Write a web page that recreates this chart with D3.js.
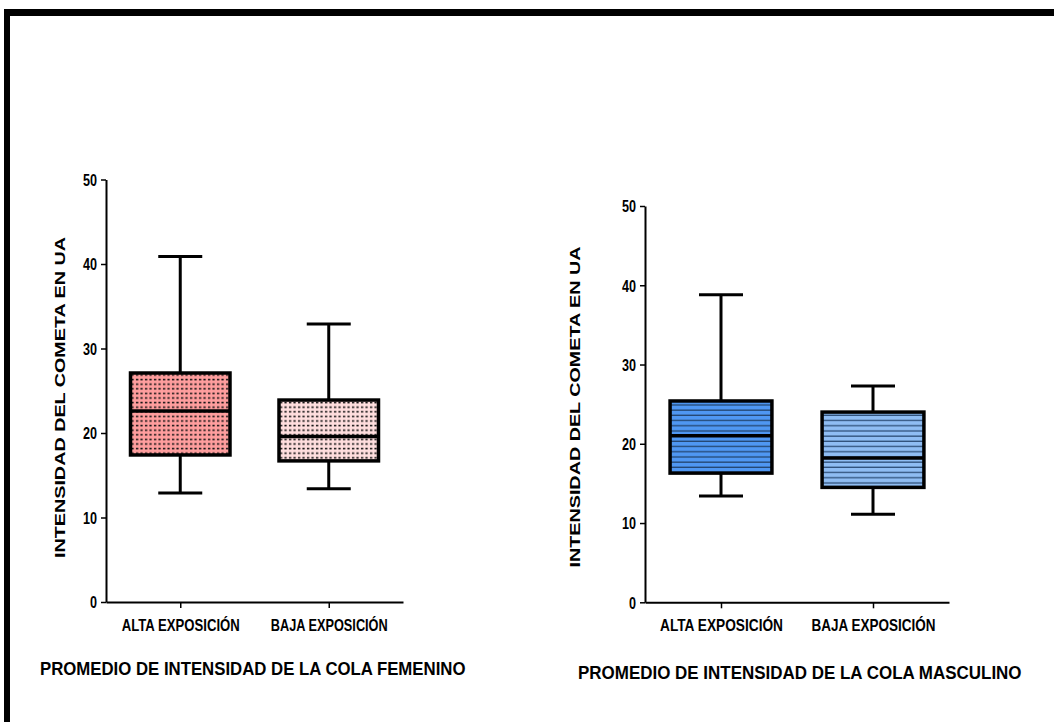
<!DOCTYPE html>
<html>
<head>
<meta charset="utf-8">
<script src="https://cdn.jsdelivr.net/npm/d3@7"></script>
<style>
  body { margin: 0; background: #ffffff; }
  svg { display: block; }
</style>
</head>
<body>
<svg id="chart" width="1054" height="722"></svg>
<script>
// Exposure groups shown on both panels
const groups = ["ALTA EXPOSICIÓN", "BAJA EXPOSICIÓN"];
const yTicks = [0, 10, 20, 30, 40, 50];
const yTitle = "INTENSIDAD DEL COMETA EN UA";

// Female comet tail intensity (min, Q1, median, Q3, max)
const femMin = [12.9, 13.4];
const femQ1  = [17.4, 16.7];
const femMed = [22.6, 19.6];
const femQ3  = [27.1, 23.9];
const femMax = [40.9, 32.9];

// Male comet tail intensity (min, Q1, median, Q3, max)
const mascMin = [13.4, 11.1];
const mascQ1  = [16.3, 14.5];
const mascMed = [21.0, 18.2];
const mascQ3  = [25.4, 24.0];
const mascMax = [38.8, 27.3];

const panelTitles = [
  "PROMEDIO DE INTENSIDAD DE LA COLA FEMENINO",
  "PROMEDIO DE INTENSIDAD DE LA COLA MASCULINO"
];

const narrow = "'Liberation Sans Narrow', 'Arial Narrow', 'Liberation Sans', Arial, sans-serif";
const wide = "'Liberation Sans', Arial, sans-serif";

const svg = d3.select("#chart");

// squeeze a text horizontally so it spans the given width
function squeeze(sel, width, tx, ty) {
  const n = sel.node();
  const w = n.getComputedTextLength();
  const sx = w > 0 ? width / w : 1;
  sel.attr("transform", `translate(${tx},${ty}) scale(${sx},1)`);
}

// page frame: heavy rule along the top and left edges
svg.append("rect").attr("x", 4).attr("y", 9).attr("width", 1050).attr("height", 7).attr("fill", "#000");
svg.append("rect").attr("x", 4).attr("y", 9).attr("width", 6).attr("height", 713).attr("fill", "#000");

const defs = svg.append("defs");

// dotted fills for the female boxes
function dotPattern(id, bg) {
  const p = defs.append("pattern").attr("id", id)
    .attr("patternUnits", "userSpaceOnUse").attr("width", 4.5).attr("height", 4.6);
  p.append("rect").attr("width", 4.5).attr("height", 4.6).attr("fill", bg);
  p.append("rect").attr("x", 1).attr("y", 1.6).attr("width", 2.2).attr("height", 1.6).attr("fill", "#111");
}
// striped fills for the male boxes
function stripePattern(id, bg, line) {
  const p = defs.append("pattern").attr("id", id)
    .attr("patternUnits", "userSpaceOnUse").attr("width", 10).attr("height", 5.2);
  p.append("rect").attr("width", 10).attr("height", 5.2).attr("fill", bg);
  p.append("rect").attr("y", 3.9).attr("width", 10).attr("height", 1.3).attr("fill", line);
}
dotPattern("femAlta", "#ff9e9e");
dotPattern("femBaja", "#ffdede");
stripePattern("mascAlta", "#4f97f2", "#23456f");
stripePattern("mascBaja", "#8fbdf3", "#2e4f78");

const panels = [
  {
    min: femMin, q1: femQ1, med: femMed, q3: femQ3, max: femMax,
    fills: ["url(#femAlta)", "url(#femBaja)"],
    x0: 106, x1: 403, yTop: 179.5, yBot: 602,
    labelWidths: [118, 117],
    yTitleX: 65, yTitleY: 397.5,
    title: panelTitles[0], titleX: 40, titleY: 675, titleW: 426
  },
  {
    min: mascMin, q1: mascQ1, med: mascMed, q3: mascQ3, max: mascMax,
    fills: ["url(#mascAlta)", "url(#mascBaja)"],
    x0: 645, x1: 949, yTop: 206, yBot: 602.3,
    labelWidths: [123, 124],
    yTitleX: 580, yTitleY: 407,
    title: panelTitles[1], titleX: 578, titleY: 679, titleW: 444
  }
];

panels.forEach(pn => {
  const g = svg.append("g");
  const y = d3.scaleLinear().domain([0, 50]).range([pn.yBot, pn.yTop]);
  const x = d3.scalePoint().domain(groups).range([pn.x0, pn.x1]).padding(0.5);
  const boxW = x.step() * 0.67;
  const capW = 44;

  // y axis
  const ya = g.append("g").attr("transform", `translate(${pn.x0},0)`)
    .call(d3.axisLeft(y).tickValues(yTicks).tickSize(5).tickSizeOuter(0).tickPadding(4));
  ya.select(".domain").attr("stroke-width", 2);
  ya.selectAll(".tick line").attr("stroke-width", 1.5);
  ya.selectAll(".tick text").attr("font-family", narrow).attr("font-weight", "bold")
    .attr("font-size", 16).attr("fill", "#000").attr("dy", "0.36em")
    .attr("textLength", d => String(d).length * 7).attr("lengthAdjust", "spacingAndGlyphs");

  // x axis
  const xa = g.append("g").attr("transform", `translate(0,${pn.yBot})`)
    .call(d3.axisBottom(x).tickSize(6).tickSizeOuter(0).tickPadding(11));
  xa.select(".domain").attr("stroke-width", 2);
  xa.selectAll(".tick line").attr("stroke-width", 1.5);
  xa.selectAll(".tick text").attr("font-family", narrow).attr("font-weight", "bold")
    .attr("font-size", 16.5).attr("fill", "#000")
    .each(function (d, i) {
      const t = d3.select(this);
      const yy = +t.attr("y");
      t.attr("y", 0);
      squeeze(t, pn.labelWidths[i], 0, yy);
    });

  // boxes and whiskers
  groups.forEach((gr, i) => {
    const cx = x(gr);
    const b = g.append("g");
    b.append("line").attr("x1", cx).attr("x2", cx)
      .attr("y1", y(pn.max[i])).attr("y2", y(pn.q3[i]))
      .attr("stroke", "#000").attr("stroke-width", 3);
    b.append("line").attr("x1", cx).attr("x2", cx)
      .attr("y1", y(pn.q1[i])).attr("y2", y(pn.min[i]))
      .attr("stroke", "#000").attr("stroke-width", 3);
    [pn.max[i], pn.min[i]].forEach(v => {
      b.append("line").attr("x1", cx - capW / 2).attr("x2", cx + capW / 2)
        .attr("y1", y(v)).attr("y2", y(v))
        .attr("stroke", "#000").attr("stroke-width", 3);
    });
    b.append("rect").attr("x", cx - boxW / 2).attr("width", boxW)
      .attr("y", y(pn.q3[i])).attr("height", y(pn.q1[i]) - y(pn.q3[i]))
      .attr("fill", pn.fills[i]).attr("stroke", "#000").attr("stroke-width", 3.5);
    b.append("line").attr("x1", cx - boxW / 2).attr("x2", cx + boxW / 2)
      .attr("y1", y(pn.med[i])).attr("y2", y(pn.med[i]))
      .attr("stroke", "#000").attr("stroke-width", 3.5);
  });

  // y axis title
  g.append("text")
    .attr("transform", `translate(${pn.yTitleX},${pn.yTitleY}) rotate(-90)`)
    .attr("text-anchor", "middle")
    .attr("font-family", wide).attr("font-weight", "bold").attr("font-size", 14.5)
    .attr("textLength", 321).attr("lengthAdjust", "spacingAndGlyphs")
    .text(yTitle);

  // panel caption
  const cap = g.append("text")
    .attr("x", 0).attr("y", 0)
    .attr("font-family", narrow).attr("font-weight", "bold").attr("font-size", 19)
    .text(pn.title);
  squeeze(cap, pn.titleW, pn.titleX, pn.titleY);
});
</script>
</body>
</html>
